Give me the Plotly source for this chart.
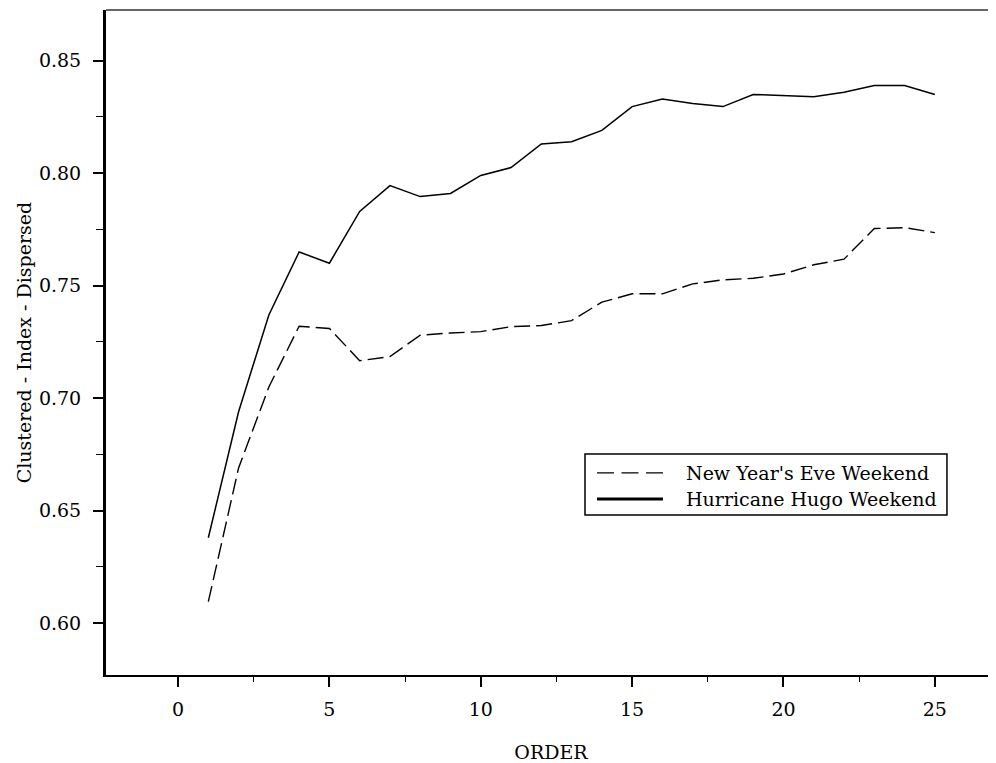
import plotly.graph_objects as go

order = list(range(1, 26))
new_year = [0.6096, 0.669, 0.705, 0.732, 0.731, 0.7167, 0.7185, 0.728, 0.729, 0.7296,
            0.7318, 0.7323, 0.7345, 0.7427, 0.7464, 0.7464, 0.7508, 0.7526, 0.7533, 0.7552,
            0.7593, 0.7618, 0.7754, 0.7758, 0.7736]
hugo = [0.638, 0.694, 0.737, 0.765, 0.760, 0.783, 0.7945, 0.7896, 0.791, 0.799,
        0.8025, 0.813, 0.814, 0.819, 0.8296, 0.833, 0.831, 0.8296, 0.835, 0.8345,
        0.834, 0.836, 0.839, 0.839, 0.835]
series_names = ["New Year's Eve Weekend", "Hurricane Hugo Weekend"]
y_ticks = [0.60, 0.65, 0.70, 0.75, 0.80, 0.85]
x_ticks = [0, 5, 10, 15, 20, 25]

FONT = "DejaVu Serif"
FS = 19
DASH = "16px,6px"

fig = go.Figure()
fig.add_trace(go.Scatter(x=order, y=new_year, mode="lines", name=series_names[0],
                         line=dict(color="black", width=1.4, dash=DASH)))
fig.add_trace(go.Scatter(x=order, y=hugo, mode="lines", name=series_names[1],
                         line=dict(color="black", width=1.5)))

# legend drawn as a boxed key in paper coordinates
box = dict(x0=0.5382, x1=0.9449, y0=0.2406, y1=0.3323)
key_x0, key_x1, text_x = 0.5517, 0.6258, 0.6494
row_y = [0.3038, 0.2647]
shapes = [
    dict(type="line", xref="paper", yref="paper", x0=0, x1=1, y0=1, y1=1,
         line=dict(color="#333333", width=1.5)),
    dict(type="rect", xref="paper", yref="paper", **box,
         line=dict(color="black", width=1.5), fillcolor="white", layer="above"),
    dict(type="line", xref="paper", yref="paper", x0=key_x0, x1=key_x1, y0=row_y[0], y1=row_y[0],
         line=dict(color="black", width=1.2, dash="17px,7.5px"), layer="above"),
    dict(type="line", xref="paper", yref="paper", x0=key_x0, x1=key_x1, y0=row_y[1], y1=row_y[1],
         line=dict(color="black", width=3), layer="above"),
]
annotations = [
    dict(xref="paper", yref="paper", x=text_x, y=yy, text=name, showarrow=False,
         xanchor="left", yanchor="middle", font=dict(family=FONT, size=FS, color="black"))
    for name, yy in zip(series_names, row_y)
]

fig.update_layout(
    width=988, height=755,
    margin=dict(l=98, r=0, t=2, b=88),
    paper_bgcolor="white", plot_bgcolor="white",
    font=dict(family=FONT, size=FS, color="black"),
    showlegend=False,
    xaxis=dict(range=[-2.38, 27.02], tickvals=x_ticks, ticktext=[str(v) for v in x_ticks],
               showgrid=False, zeroline=False, showline=True, linecolor="black", linewidth=2,
               ticks="outside", ticklen=10, tickwidth=1.5, tickcolor="black",
               ticklabelstandoff=6,
               minor=dict(dtick=2.5, tick0=0, ticks="outside", ticklen=5, tickwidth=1.2, tickcolor="black"),
               title=dict(text="ORDER", standoff=28, font=dict(family=FONT, size=FS))),
    yaxis=dict(range=[0.5770, 0.87253], tickvals=y_ticks, ticktext=[f"{v:.2f}" for v in y_ticks],
               showgrid=False, zeroline=False, showline=True, linecolor="black", linewidth=3,
               ticks="outside", ticklen=10, tickwidth=1.5, tickcolor="black",
               ticklabelstandoff=8,
               minor=dict(dtick=0.025, tick0=0.6, ticks="outside", ticklen=7, tickwidth=1.2, tickcolor="black"),
               title=dict(text="Clustered - Index - Dispersed", standoff=3, font=dict(family=FONT, size=FS))),
    shapes=shapes,
    annotations=annotations,
)

fig.write_html("out.html")
